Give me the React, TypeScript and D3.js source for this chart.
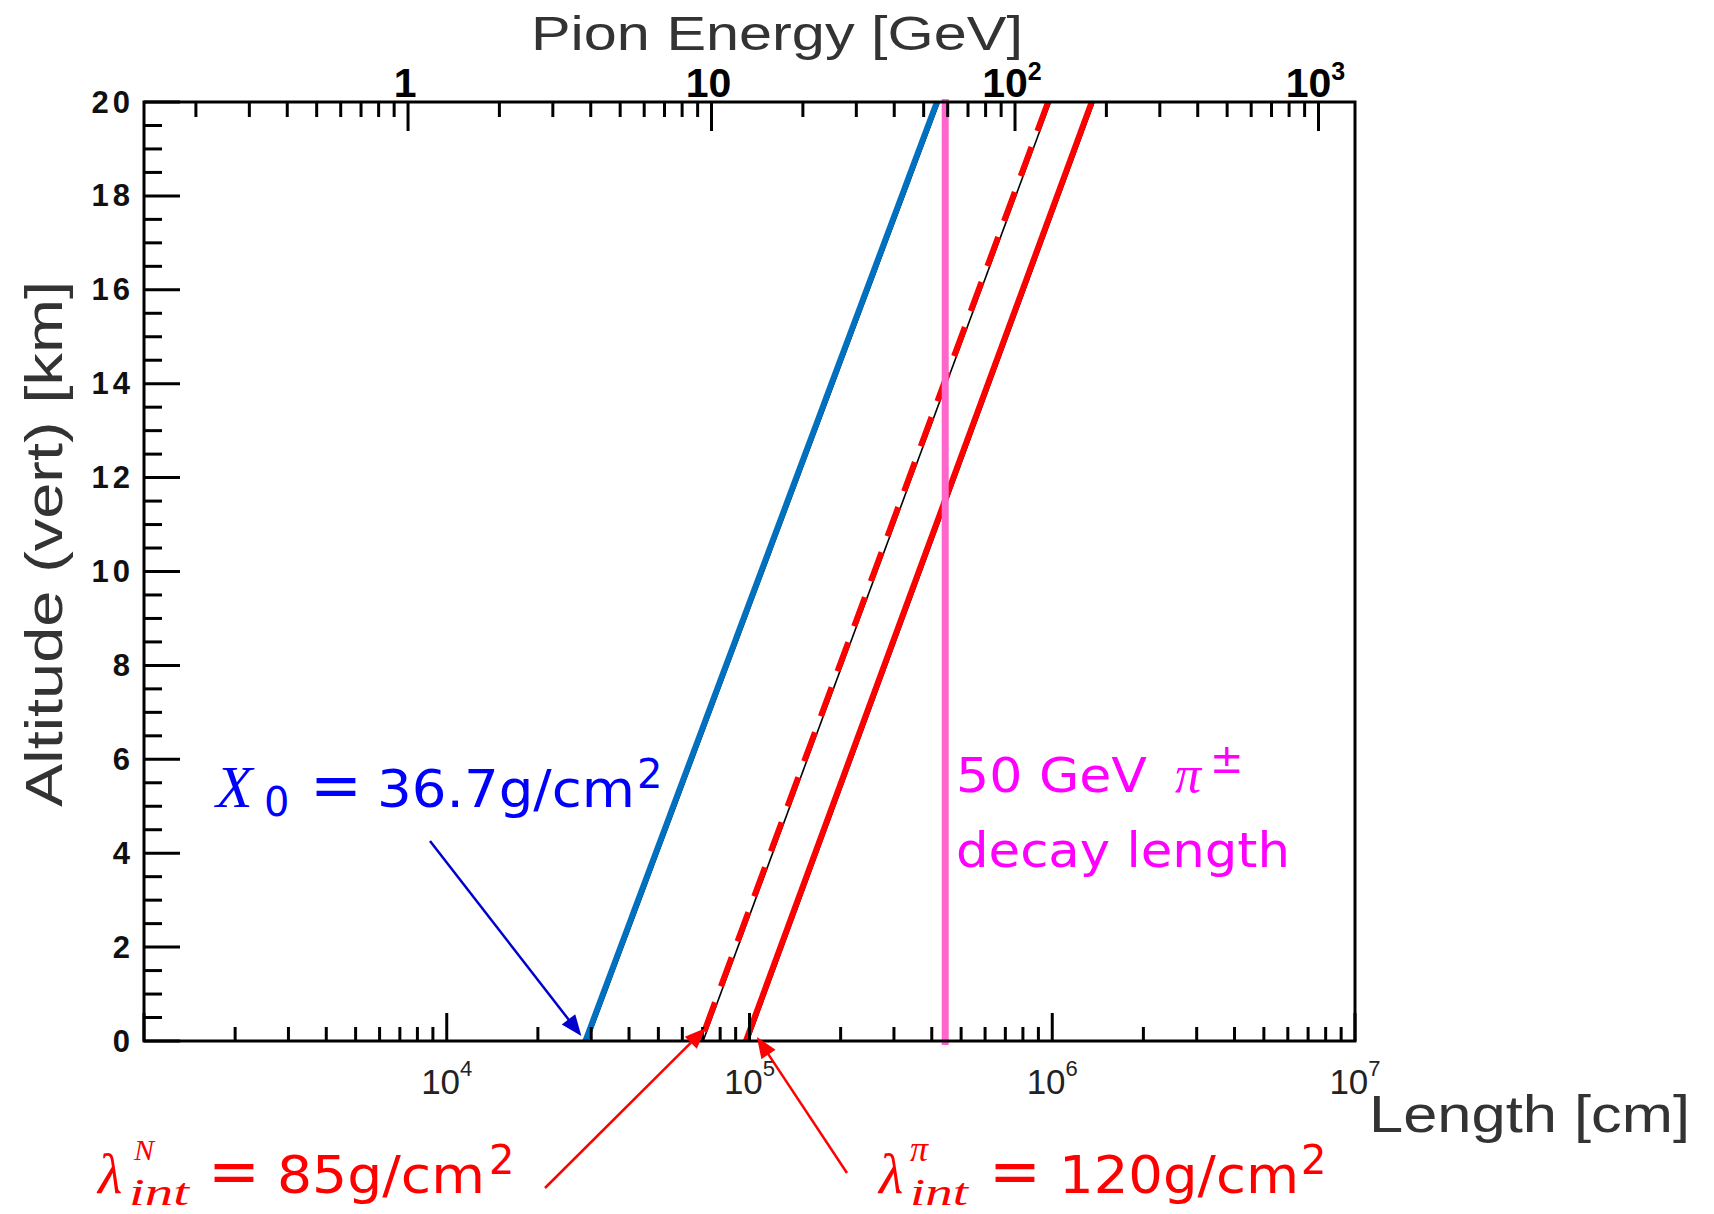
import React from "react";
import * as d3 from "d3";

const W = 1714;
const H = 1214;

// Altitude (km) at which each length curve is sampled
const altitudes = [0, 20];
// Length (cm) corresponding to one radiation length X0 = 36.7 g/cm^2
const lengthX0 = [2.87e4, 4.16e5];
// Length (cm) corresponding to the nucleon interaction length 85 g/cm^2
const lengthLambdaN = [6.9e4, 9.69e5];
// Length (cm) corresponding to the pion interaction length 120 g/cm^2
const lengthLambdaPi = [9.73e4, 1.35e6];
// Decay length (cm) of a 50 GeV charged pion
const pionDecayLength = 4.43e5;

// Axis ranges and tick labels
const lengthDomain = [1e3, 1e7];
const energyDomain = [0.1349, 1319];
const altitudeDomain = [0, 20];
const altitudeLabels = [0, 2, 4, 6, 8, 10, 12, 14, 16, 18, 20];
const lengthLabels = [
  { value: 1e4, base: "10", exp: "4" },
  { value: 1e5, base: "10", exp: "5" },
  { value: 1e6, base: "10", exp: "6" },
  { value: 1e7, base: "10", exp: "7" },
];
const energyLabels = [
  { value: 1, base: "1", exp: "" },
  { value: 10, base: "10", exp: "" },
  { value: 100, base: "10", exp: "2" },
  { value: 1000, base: "10", exp: "3" },
];

const SANS = "'Liberation Sans', Arial, Helvetica, sans-serif";
const TEX_SANS = "'DejaVu Sans', 'Noto Sans', sans-serif";
const MATH = "'Liberation Serif', 'DejaVu Serif', serif";

const LEFT = 144;
const RIGHT = 1355;
const TOP = 102;
const BOTTOM = 1041;

const isDecade = (v: number) =>
  Math.abs(Math.log10(v) - Math.round(Math.log10(v))) < 1e-9;

function Arrow({
  x1, y1, x2, y2, color, width = 2.5, headLen = 21, headHalf = 8.5,
}: {
  x1: number; y1: number; x2: number; y2: number; color: string;
  width?: number; headLen?: number; headHalf?: number;
}) {
  const dx = x2 - x1;
  const dy = y2 - y1;
  const len = Math.hypot(dx, dy);
  const ux = dx / len;
  const uy = dy / len;
  const bx = x2 - ux * headLen;
  const by = y2 - uy * headLen;
  const px = -uy;
  const py = ux;
  const pts = [
    [x2, y2],
    [bx + px * headHalf, by + py * headHalf],
    [bx - px * headHalf, by - py * headHalf],
  ]
    .map((p) => p.join(","))
    .join(" ");
  return (
    <g>
      <line x1={x1} y1={y1} x2={bx + ux * 2} y2={by + uy * 2} stroke={color} strokeWidth={width} />
      <polygon points={pts} fill={color} />
    </g>
  );
}

export default function App() {
  const x = d3.scaleLog().domain(lengthDomain).range([LEFT, RIGHT]);
  const xE = d3.scaleLog().domain(energyDomain).range([LEFT, RIGHT]);
  const y = d3.scaleLinear().domain(altitudeDomain).range([BOTTOM, TOP]);

  const line = d3
    .line<[number, number]>()
    .x((d) => x(d[0]))
    .y((d) => y(d[1]));
  const shadow = d3
    .line<[number, number]>()
    .x((d) => x(d[0]) + 2.4)
    .y((d) => y(d[1]));

  // curves are traced from the top of the atmosphere down
  const pts = (lengths: number[]) =>
    altitudes.map((a, i) => [lengths[i], a] as [number, number]).reverse();

  const curves = [
    { data: pts(lengthX0), color: "#0070c0", dash: undefined },
    { data: pts(lengthLambdaN), color: "#ff0000", dash: "31 17" },
    { data: pts(lengthLambdaPi), color: "#ff0000", dash: undefined },
  ];

  const lengthTicks = x.ticks();
  const energyTicks = xE.ticks().filter((v) => v >= energyDomain[0] && v <= energyDomain[1]);
  const altitudeTicks = d3.range(0, 20.0001, 0.5);

  const bottomX0 = x(lengthX0[0]);
  const bottomN = x(lengthLambdaN[0]);
  const bottomPi = x(lengthLambdaPi[0]);
  const y0 = y(0);

  return (
    <svg
      width={W}
      height={H}
      viewBox={`0 0 ${W} ${H}`}
      style={{ position: "absolute", left: 0, top: 0, background: "#fff" }}
    >
      <rect x={0} y={0} width={W} height={H} fill="#fff" />

      {/* length curves, each with a thin dark underline */}
      {curves.map((c, i) => (
        <g key={i}>
          <path d={shadow(c.data) || ""} stroke="#000" strokeWidth={1.6} fill="none" />
          <path
            d={line(c.data) || ""}
            stroke={c.color}
            strokeWidth={6}
            fill="none"
            strokeDasharray={c.dash}
          />
        </g>
      ))}

      {/* 50 GeV pion decay length */}
      <line
        x1={x(pionDecayLength)}
        x2={x(pionDecayLength)}
        y1={y(20) - 3}
        y2={y(0) + 4}
        stroke="#ff66cc"
        strokeWidth={7}
      />

      {/* frame */}
      <rect
        x={LEFT}
        y={TOP}
        width={RIGHT - LEFT}
        height={BOTTOM - TOP}
        fill="none"
        stroke="#000"
        strokeWidth={3}
      />

      {/* left axis ticks */}
      {altitudeTicks.map((v) => {
        const major = Math.abs(v / 2 - Math.round(v / 2)) < 1e-9;
        return (
          <line
            key={`ya${v}`}
            x1={LEFT}
            x2={LEFT + (major ? 36 : 18)}
            y1={y(v)}
            y2={y(v)}
            stroke="#000"
            strokeWidth={3}
          />
        );
      })}
      {altitudeLabels.map((v) => (
        <text
          key={`yl${v}`}
          x={134}
          y={y(v)}
          textAnchor="end"
          dominantBaseline="central"
          fontFamily={SANS}
          fontWeight="bold"
          fontSize={31}
          letterSpacing={4}
          fill="#111"
        >
          {v}
        </text>
      ))}

      {/* bottom axis ticks */}
      {lengthTicks.map((v) => (
        <line
          key={`xb${v}`}
          x1={x(v)}
          x2={x(v)}
          y1={BOTTOM}
          y2={BOTTOM - (isDecade(v) ? 28 : 14)}
          stroke="#000"
          strokeWidth={3}
        />
      ))}
      {lengthLabels.map((l) => (
        <text
          key={`xl${l.value}`}
          x={x(l.value)}
          y={1094}
          textAnchor="middle"
          fontFamily={SANS}
          fontSize={35}
          fill="#222"
        >
          {l.base}
          <tspan dy={-18} fontSize={22}>
            {l.exp}
          </tspan>
        </text>
      ))}

      {/* top axis ticks (pion energy) */}
      {energyTicks.map((v) => (
        <line
          key={`xt${v}`}
          x1={xE(v)}
          x2={xE(v)}
          y1={TOP}
          y2={TOP + (isDecade(v) ? 29 : 15)}
          stroke="#000"
          strokeWidth={3}
        />
      ))}
      {energyLabels.map((l) => (
        <text
          key={`el${l.value}`}
          x={xE(l.value) - 3}
          y={97}
          textAnchor="middle"
          fontFamily={SANS}
          fontWeight="bold"
          fontSize={41}
          fill="#000"
        >
          {l.base}
          {l.exp && (
            <tspan dy={-17} fontSize={25}>
              {l.exp}
            </tspan>
          )}
        </text>
      ))}

      {/* axis titles */}
      <text x={531} y={50} fontFamily={SANS} fontSize={49} fill="#333" textLength={492} lengthAdjust="spacingAndGlyphs">
        Pion Energy [GeV]
      </text>
      <text x={1369} y={1132} fontFamily={SANS} fontSize={52} fill="#333" textLength={321} lengthAdjust="spacingAndGlyphs">
        Length [cm]
      </text>
      <text
        transform="translate(62,544) rotate(-90)"
        textAnchor="middle"
        fontFamily={SANS}
        fontSize={52}
        fill="#333"
        textLength={526}
        lengthAdjust="spacingAndGlyphs"
      >
        Altitude (vert) [km]
      </text>

      {/* X0 annotation */}
      <g fill="#0000ff">
        <text x={216} y={807} fontFamily={MATH} fontStyle="italic" fontSize={60}>
          X
          <tspan x={264} y={816} fontFamily={TEX_SANS} fontStyle="normal" fontSize={40}>0</tspan>
        </text>
        <text x={310} y={807} fontFamily={TEX_SANS} fontSize={62}>=</text>
        <text x={377} y={807} fontFamily={TEX_SANS} fontSize={52}>
          <tspan textLength={258} lengthAdjust="spacingAndGlyphs">36.7g/cm</tspan>
          <tspan x={637} y={788} fontSize={40}>2</tspan>
        </text>
      </g>
      <Arrow x1={430} y1={841} x2={bottomX0 - 4} y2={y0 - 5} color="#0000cc" />

      {/* pion decay annotation */}
      <g fill="#ff00ff">
        <text x={956} y={792} fontFamily={TEX_SANS} fontSize={48}>
          <tspan textLength={191} lengthAdjust="spacingAndGlyphs">50 GeV</tspan>
          <tspan x={1175} fontFamily={MATH} fontStyle="italic" fontSize={52}>π</tspan>
          <tspan x={1210} y={773} fontSize={40}>±</tspan>
        </text>
        <text x={956} y={867} fontFamily={TEX_SANS} fontSize={48} textLength={334} lengthAdjust="spacingAndGlyphs">decay length</text>
      </g>

      {/* nucleon interaction length annotation */}
      <g fill="#ff0000">
        <text x={98} y={1193} fontFamily={MATH} fontStyle="italic" fontSize={56}>
          λ
          <tspan x={134} y={1160} fontSize={30}>N</tspan>
          <tspan x={129} y={1205} fontSize={38} textLength={60} lengthAdjust="spacingAndGlyphs">int</tspan>
        </text>
        <text x={208} y={1193} fontFamily={TEX_SANS} fontSize={62}>=</text>
        <text x={277} y={1193} fontFamily={TEX_SANS} fontSize={52}>
          <tspan textLength={208} lengthAdjust="spacingAndGlyphs">85g/cm</tspan>
          <tspan x={489} y={1174} fontSize={40}>2</tspan>
        </text>
      </g>
      <Arrow x1={545} y1={1188} x2={bottomN + 5} y2={y0 - 13} color="#ff0000" />

      {/* pion interaction length annotation */}
      <g fill="#ff0000">
        <text x={879} y={1193} fontFamily={MATH} fontStyle="italic" fontSize={56}>
          λ
          <tspan x={910} y={1161} fontSize={36}>π</tspan>
          <tspan x={910} y={1205} fontSize={38} textLength={58} lengthAdjust="spacingAndGlyphs">int</tspan>
        </text>
        <text x={989} y={1193} fontFamily={TEX_SANS} fontSize={62}>=</text>
        <text x={1059} y={1193} fontFamily={TEX_SANS} fontSize={52}>
          <tspan textLength={240} lengthAdjust="spacingAndGlyphs">120g/cm</tspan>
          <tspan x={1301} y={1174} fontSize={40}>2</tspan>
        </text>
      </g>
      <Arrow x1={847} y1={1173} x2={bottomPi + 11} y2={y0 - 4} color="#ff0000" />
    </svg>
  );
}
